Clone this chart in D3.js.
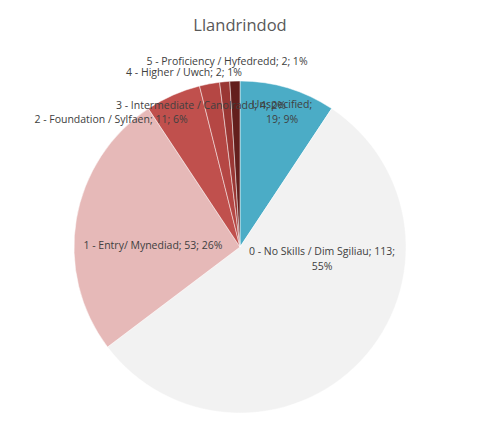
<!DOCTYPE html>
<html>
<head>
<meta charset="utf-8">
<script src="https://cdn.jsdelivr.net/npm/d3@7"></script>
<style>
  body { margin: 0; background: #fff; }
  svg { display: block; }
  text { font-family: "Open Sans", "Liberation Sans", sans-serif; }
</style>
</head>
<body>
<svg id="drawing_region"></svg>
<script>

// data (clockwise from 12 o'clock)
const categories = ['Unspecified', '0 - No Skills / Dim Sgiliau', '1 - Entry/ Mynediad',
    '2 - Foundation / Sylfaen', '3 - Intermediate / Canolradd', '4 - Higher / Uwch',
    '5 - Proficiency / Hyfedredd'];
const counts = [19, 113, 53, 11, 4, 2, 2];
const percents = ['9%', '55%', '26%', '6%', '2%', '1%', '1%'];

const colors = ['#4bacc6', '#f2f2f2', '#e6b9b8', '#c0504d', '#b54744', '#9a3734', '#631f1d'];

// where each data label sits, relative to pie centre (lines of text)
const labelLayout = [
    { dx: 42, dy: -135, lines: d => [d.cat + ';', d.count + '; ' + d.pct] },
    { dx: 82, dy: 12, lines: d => [d.cat + '; ' + d.count + ';', d.pct] },
    { dx: -87, dy: -2, lines: d => [d.cat + '; ' + d.count + '; ' + d.pct] },
    { dx: -129, dy: -128, lines: d => [d.cat + '; ' + d.count + '; ' + d.pct] },
    { dx: -39, dy: -142, lines: d => [d.cat + '; ' + d.count + '; ' + d.pct] },
    { dx: -56, dy: -175, lines: d => [d.cat + '; ' + d.count + '; ' + d.pct] },
    { dx: -13, dy: -186, lines: d => [d.cat + '; ' + d.count + '; ' + d.pct] }
];

const data = categories.map((c, i) => ({ cat: c, count: counts[i], pct: percents[i], color: colors[i], i: i }));

const config = {
    width: 494,
    height: 427,
    cx: 240,
    cy: 247,
    radius: 166
};

const svg = d3.select('#drawing_region')
    .attr('width', config.width)
    .attr('height', config.height);

// title
svg.append('text')
    .attr('x', config.cx)
    .attr('y', 31)
    .attr('text-anchor', 'middle')
    .attr('font-size', 16.5)
    .attr('fill', '#595959')
    .text('Llandrindod');

const chart = svg.append('g')
    .attr('transform', `translate(${config.cx}, ${config.cy})`);

const pie = d3.pie()
    .sort(null)
    .value(d => d.count);

const arc = d3.arc()
    .innerRadius(0)
    .outerRadius(config.radius);

const arcs = pie(data);

chart.selectAll('path')
    .data(arcs)
    .enter()
    .append('path')
    .attr('d', arc)
    .attr('fill', d => d.data.color)
    .attr('stroke', 'rgba(255,255,255,0.6)')
    .attr('stroke-width', 0.8);

// data labels
const labels = chart.selectAll('text.lbl')
    .data(arcs)
    .enter()
    .append('text')
    .attr('class', 'lbl')
    .attr('text-anchor', 'middle')
    .attr('font-size', 10.5)
    .attr('fill', '#404040')
    .attr('transform', d => {
        const l = labelLayout[d.data.i];
        return `translate(${l.dx}, ${l.dy})`;
    });

labels.each(function(d) {
    const lines = labelLayout[d.data.i].lines(d.data);
    const n = lines.length;
    d3.select(this).selectAll('tspan')
        .data(lines)
        .enter()
        .append('tspan')
        .attr('x', 0)
        .attr('y', (s, k) => (k - (n - 1) / 2) * 15 + 3.5)
        .text(s => s);
});

</script>
</body>
</html>
